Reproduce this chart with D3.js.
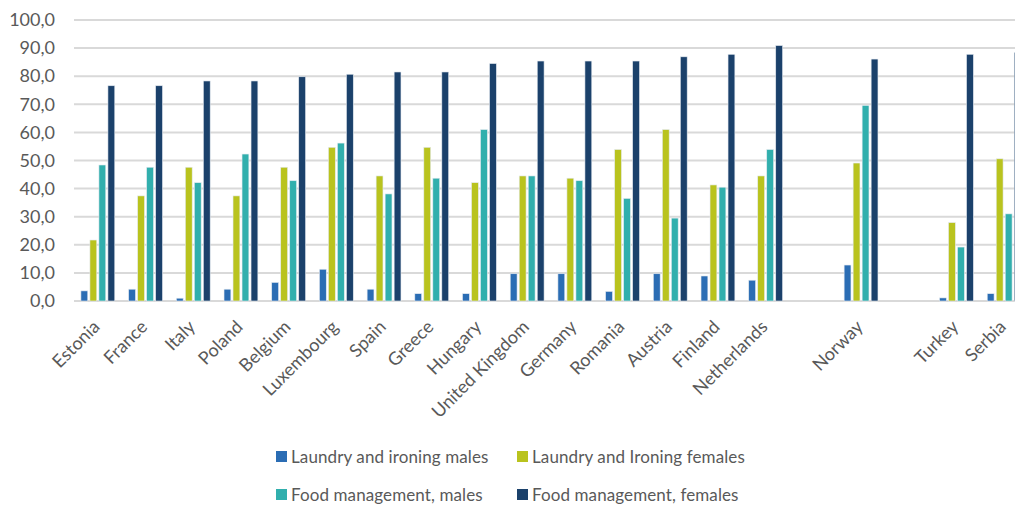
<!DOCTYPE html>
<html>
<head>
<meta charset="utf-8">
<script src="https://cdn.jsdelivr.net/npm/d3@7"></script>
<style>
  html, body { margin: 0; padding: 0; background: #fff; }
  svg { display: block; font-family: Lato, "Liberation Sans", Arial, sans-serif; }
</style>
</head>
<body>
<svg id="chart" width="1015" height="506"></svg>
<script>
// Countries along the axis; empty strings are blank spacer slots
const categories = ["Estonia", "France", "Italy", "Poland", "Belgium", "Luxembourg", "Spain", "Greece",
  "Hungary", "United Kingdom", "Germany", "Romania", "Austria", "Finland", "Netherlands", "",
  "Norway", "", "Turkey", "Serbia"];

const seriesNames = ["Laundry and ironing males", "Laundry and Ironing females",
  "Food management, males", "Food management, females"];

const laundryMales     = [3.6, 4.2, 1.0, 4.2, 6.6, 11.3, 4.2, 2.6, 2.6, 9.7, 9.7, 3.4, 9.7, 8.9, 7.4, null, 12.8, null, 1.1, 2.6];
const laundryFemales   = [21.7, 37.4, 47.6, 37.4, 47.6, 54.7, 44.5, 54.7, 42.1, 44.5, 43.7, 53.9, 61.0, 41.3, 44.5, null, 49.1, null, 27.9, 50.6];
const foodMales        = [48.4, 47.6, 42.1, 52.3, 42.8, 56.2, 38.1, 43.7, 61.0, 44.5, 42.8, 36.5, 29.5, 40.5, 53.9, null, 69.6, null, 19.2, 31.0];
const foodFemales      = [76.6, 76.6, 78.3, 78.3, 79.8, 80.7, 81.5, 81.5, 84.5, 85.4, 85.4, 85.4, 86.9, 87.8, 90.9, null, 86.1, null, 87.8, 88.5];

const yTicks = [0, 10, 20, 30, 40, 50, 60, 70, 80, 90, 100];

const colors = ["#2b6db4", "#b9c31e", "#31afad", "#1b416b"];
const seriesValues = [laundryMales, laundryFemales, foodMales, foodFemales];

const svg = d3.select("#chart");
const plotLeft = 74, plotTop = 20, plotBottom = 301;
const slot = 47.7;
const plotRight = plotLeft + slot * categories.length;
const textColor = "#595959";

const y = d3.scaleLinear().domain([0, 100]).range([plotBottom, plotTop]);
const x0 = d3.scaleBand().domain(d3.range(categories.length)).range([plotLeft, plotRight])
  .paddingInner(0.245).paddingOuter(0.1225);
const x1 = d3.scaleBand().domain(d3.range(seriesNames.length)).range([0, x0.bandwidth()])
  .paddingInner(0.24).paddingOuter(0.12);

// Horizontal gridlines
svg.append("g")
  .selectAll("line")
  .data(yTicks)
  .join("line")
  .attr("x1", plotLeft).attr("x2", 1015)
  .attr("y1", d => y(d)).attr("y2", d => y(d))
  .attr("stroke", "#d9d9d9")
  .attr("stroke-width", 2);

// Y axis labels
const yAxis = d3.axisLeft(y).tickValues(yTicks).tickSize(0).tickPadding(0)
  .tickFormat(d => d3.format(".1f")(d).replace(".", ","));
svg.append("g")
  .attr("transform", `translate(55,0)`)
  .call(yAxis)
  .call(g => g.select(".domain").remove())
  .call(g => g.selectAll("text")
    .attr("fill", textColor)
    .attr("font-size", 18)
    .attr("font-family", "Lato, sans-serif"));

// Bars
const groups = svg.append("g")
  .selectAll("g")
  .data(categories.map((c, i) => i))
  .join("g")
  .attr("transform", i => `translate(${x0(i)},0)`);

groups.selectAll("rect")
  .data(i => seriesValues.map((vals, s) => ({ s, v: vals[i] })).filter(d => d.v !== null))
  .join("rect")
  .attr("x", d => x1(d.s))
  .attr("width", x1.bandwidth())
  .attr("y", d => y(d.v))
  .attr("height", d => y(0) - y(d.v))
  .attr("fill", d => colors[d.s])
  .attr("stroke", "#e4eaf0")
  .attr("stroke-width", 0.6);

// Category labels rotated along the bottom
const xAxis = d3.axisBottom(x0).tickSize(0).tickPadding(0).tickFormat(i => categories[i]);
svg.append("g")
  .attr("transform", `translate(0,${plotBottom})`)
  .call(xAxis)
  .call(g => g.select(".domain").remove())
  .call(g => g.selectAll("text")
    .attr("fill", textColor)
    .attr("font-size", 18)
    .attr("font-family", "Lato, sans-serif")
    .attr("text-anchor", "end")
    .attr("dy", null)
    .attr("y", 0)
    .attr("transform", "translate(3,27) rotate(-45)"));

// Legend
const legendPos = [[276, 457], [517, 457], [276, 495], [517, 495]];
const legend = svg.append("g")
  .selectAll("g")
  .data(seriesNames)
  .join("g")
  .attr("transform", (d, i) => `translate(${legendPos[i][0]},${legendPos[i][1]})`);
legend.append("rect")
  .attr("x", 0).attr("y", -6).attr("width", 11).attr("height", 11)
  .attr("fill", (d, i) => colors[i]);
legend.append("text")
  .attr("x", 15).attr("y", 0).attr("dy", "0.35em")
  .attr("fill", textColor)
  .attr("font-size", 17)
  .attr("letter-spacing", 0.1)
  .text(d => d);
</script>
</body>
</html>
